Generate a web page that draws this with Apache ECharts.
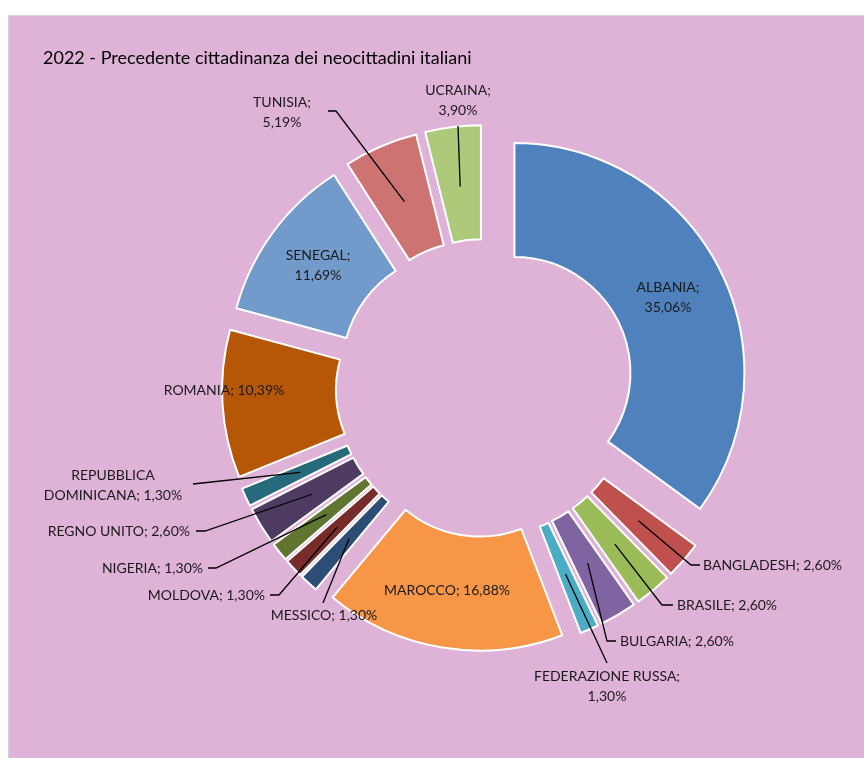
<!DOCTYPE html>
<html>
<head>
<meta charset="utf-8">
<script src="https://cdn.jsdelivr.net/npm/echarts@6/dist/echarts.min.js"></script>
<style>
  html, body { margin: 0; padding: 0; background: #fff; }
  #chart { width: 864px; height: 758px; }
</style>
</head>
<body>
<div id="chart"></div>
<script>
// data, clockwise from 12 o'clock
const names = ['ALBANIA', 'BANGLADESH', 'BRASILE', 'BULGARIA', 'FEDERAZIONE RUSSA', 'MAROCCO',
  'MESSICO', 'MOLDOVA', 'NIGERIA', 'REGNO UNITO', 'REPUBBLICA DOMINICANA', 'ROMANIA',
  'SENEGAL', 'TUNISIA', 'UCRAINA'];
const shares = [35.06, 2.60, 2.60, 2.60, 1.30, 16.88, 1.30, 1.30, 1.30, 2.60, 1.30, 10.39, 11.69, 5.19, 3.90];

const colors = ['#4F81BD', '#C0504D', '#9BBB59', '#8064A2', '#4BACC6', '#F79646',
  '#2C4D75', '#772C2A', '#5F7530', '#4D3B62', '#276A7C', '#B65708',
  '#729ACA', '#CD7371', '#AFC97A'];

// geometry of the doughnut
const CX = 485, CY = 388, R_IN = 116, R_OUT = 230, EXPLODE = 33, R_LEAD = 170;
const FONT = 'Lato';

// where Excel put each label (anchor = side the leader attaches to)
const labelPos = {
  'ALBANIA': { x: 668, y: 297, align: 'center', wrap: 'value' },
  'SENEGAL': { x: 318, y: 265, align: 'center', wrap: 'value' },
  'ROMANIA': { x: 224, y: 390, align: 'center' },
  'MAROCCO': { x: 447, y: 590, align: 'center' },
  'TUNISIA': { x: 282, y: 112, align: 'center', wrap: 'value', attach: [328, 111], elbow: [336, 111] },
  'UCRAINA': { x: 458, y: 100, align: 'center', wrap: 'value', attach: [458, 126] },
  'REPUBBLICA DOMINICANA': { x: 113, y: 485, align: 'center', wrap: 'name', attach: [193, 484] },
  'REGNO UNITO': { x: 190, y: 531, align: 'right', attach: [196, 531], elbow: [205, 531] },
  'NIGERIA': { x: 203, y: 568, align: 'right', attach: [208, 568], elbow: [216, 568] },
  'MOLDOVA': { x: 265, y: 595, align: 'right', attach: [270, 595], elbow: [279, 595] },
  'MESSICO': { x: 324, y: 615, align: 'center', attach: [323, 603] },
  'BANGLADESH': { x: 703, y: 565, align: 'left', attach: [700, 565], elbow: [691, 565] },
  'BRASILE': { x: 677, y: 605, align: 'left', attach: [673, 605], elbow: [662, 605] },
  'BULGARIA': { x: 620, y: 641, align: 'left', attach: [616, 641], elbow: [607, 641] },
  'FEDERAZIONE RUSSA': { x: 607, y: 686, align: 'center', wrap: 'value', attach: [607, 663] }
};

const total = shares.reduce((a, b) => a + b, 0);
const midAngle = (i) => {
  let cum = 0;
  for (let k = 0; k < i; k++) cum += shares[k];
  return (cum + shares[i] / 2) / total * Math.PI * 2;
};

const fmt = (name, v) => {
  const L = labelPos[name];
  const val = v.toFixed(2).replace('.', ',') + '%';
  const n = L.wrap === 'name' ? name.replace(' ', '\n') : name;
  return n + ';' + (L.wrap === 'value' ? '\n' : ' ') + val;
};

const clear = { color: 'rgba(0,0,0,0)', borderWidth: 0 };

// one pie per slice: same data, only slice i painted, centre pushed out along its mid angle
const slices = names.map((name, s) => {
  const a = midAngle(s);
  return {
    type: 'pie',
    silent: true,
    z: 2,
    center: [CX + EXPLODE * Math.sin(a), CY - EXPLODE * Math.cos(a)],
    radius: [R_IN, R_OUT],
    startAngle: 90,
    clockwise: true,
    emphasis: { disabled: true },
    label: { show: false },
    labelLine: { show: false },
    data: names.map((n, i) => ({
      name: n, value: shares[i],
      itemStyle: i === s ? { color: colors[i], borderColor: '#fff', borderWidth: 2 } : clear
    }))
  };
});

// transparent pie on top carrying the labels and leader lines
const labels = {
  type: 'pie',
  silent: true,
  z: 5,
  center: [CX, CY],
  radius: [R_IN, R_OUT],
  startAngle: 90,
  clockwise: true,
  avoidLabelOverlap: false,
  emphasis: { disabled: true },
  itemStyle: clear,
  label: {
    show: true, position: 'outside',
    fontFamily: FONT, fontSize: 14, color: '#1a1a1a', lineHeight: 20,
    formatter: (p) => fmt(p.name, p.value)
  },
  labelLine: { show: true, lineStyle: { color: '#000', width: 1.3 } },
  labelLayout: (params) => {
    const i = params.dataIndex;
    const L = labelPos[names[i]];
    const out = { x: L.x, y: L.y, align: L.align, verticalAlign: 'middle', hideOverlap: false };
    if (L.attach) {
      const a = midAngle(i);
      const d = EXPLODE + R_LEAD;
      const start = [CX + d * Math.sin(a), CY - d * Math.cos(a)];
      out.labelLinePoints = [start, L.elbow || L.attach, L.attach];
    }
    return out;
  },
  data: names.map((n, i) => ({
    name: n, value: shares[i],
    labelLine: { show: !!labelPos[n].attach }
  }))
};

const chart = echarts.init(document.getElementById('chart'));
chart.setOption({
  animation: false,
  graphic: [{
    type: 'rect', z: -10, silent: true,
    shape: { x: 8.5, y: 15.5, width: 900, height: 800 },
    style: { fill: '#DFB2D8', stroke: '#D4D4D4', lineWidth: 1 }
  }],
  title: {
    text: '2022 - Precedente cittadinanza dei neocittadini italiani',
    left: 38, top: 44,
    textStyle: { fontFamily: FONT, fontSize: 18, fontWeight: 'normal', color: '#000' }
  },
  series: slices.concat([labels])
});
</script>
</body>
</html>
